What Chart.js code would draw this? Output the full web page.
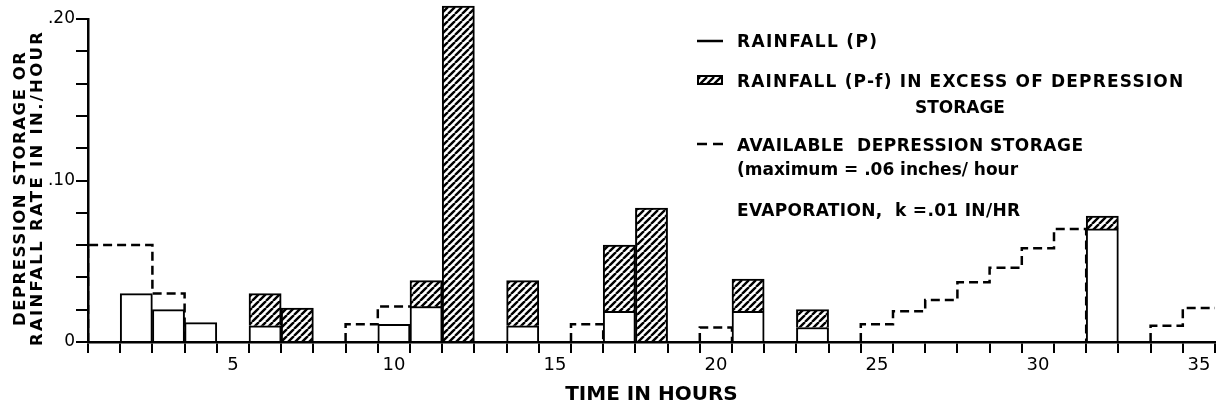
<!DOCTYPE html>
<html>
<head>
<meta charset="utf-8">
<title>Depression storage and rainfall excess</title>
<script src="https://cdn.jsdelivr.net/npm/chart.js@4/dist/chart.umd.min.js"></script>
<style>
  html, body { margin: 0; padding: 0; background: #fff; }
  #c { display: block; width: 1221px; height: 410px; }
</style>
</head>
<body>
<canvas id="c" width="1221" height="410"></canvas>
<script>
// Hours of the storm, one bar slot per hour (hour h spans h-1 .. h)
const hours = ['1','2','3','4','5','6','7','8','9','10',
               '11','12','13','14','15','16','17','18','19','20',
               '21','22','23','24','25','26','27','28','29','30',
               '31','32','33','34','35'];

// Rainfall rate P, in./hour
const rainfall = [
  null, 0.030, 0.020, 0.012, null, 0.030, 0.021, null, null, 0.011,
  0.038, 0.208, null, 0.038, null, null, 0.060, 0.083, null, null,
  0.039, null, 0.020, null, null, null, null, null, null, null,
  null, 0.078, null, null, null
];

// Rainfall (P-f) in excess of depression storage, in./hour
const excess = [
  null, null, null, null, null, 0.020, 0.021, null, null, null,
  0.016, 0.208, null, 0.028, null, null, 0.041, 0.083, null, null,
  0.020, null, 0.011, null, null, null, null, null, null, null,
  null, 0.008, null, null, null
];

// Available depression storage at each hour, in. (max .06)
const storage = [
  0.060, 0.060, 0.030, null, null, null, null, null, 0.011, 0.022,
  0.022, null, null, null, null, 0.011, null, null, null, 0.009,
  null, null, null, null, 0.011, 0.019, 0.026, 0.037, 0.046, 0.058,
  0.070, null, null, 0.010, 0.021
];

// Axis labels
const xTickLabels = ['5', '10', '15', '20', '25', '30', '35'];
const yTickValues = [0, 0.10, 0.20];
const yTickLabels = ['0', '.10', '.20'];

// Part of each hour's rainfall that goes into storage (P minus excess)
const stored = rainfall.map((p, i) => {
  if (p == null) return null;
  const s = +(p - (excess[i] || 0)).toFixed(3);
  return s > 0 ? s : null;
});

// Step outline of the available storage, rising from and dropping back to zero
function storageOutline(vals) {
  const pts = [];
  vals.forEach((v, i) => {
    if (v == null) return;
    if (i === 0 || vals[i - 1] == null) pts.push({ x: i, y: 0 });
    pts.push({ x: i, y: v });
    pts.push({ x: i + 1, y: v });
    const last = i + 1 >= vals.length;
    if (!last && vals[i + 1] == null) {
      pts.push({ x: i + 1, y: 0 });
      pts.push({ x: i + 1, y: null });
    }
  });
  return pts;
}

const FAMILY = "'DejaVu Sans', sans-serif";
const canvas = document.getElementById('c');
const mainCtx = canvas.getContext('2d');

// Diagonal line shading for the excess rainfall
function makeHatch() {
  const s = 7;
  const tile = document.createElement('canvas');
  tile.width = s; tile.height = s;
  const g = tile.getContext('2d');
  g.fillStyle = '#fff';
  g.fillRect(0, 0, s, s);
  g.strokeStyle = '#000';
  g.lineWidth = 2.4;
  g.beginPath();
  for (const k of [-s, 0, s]) { g.moveTo(k, s); g.lineTo(k + s, 0); }
  g.stroke();
  return mainCtx.createPattern(tile, 'repeat');
}
const hatch = makeHatch();

// Draw text left-aligned, spread to a given width
function fitText(ctx, text, x, y, width, font) {
  ctx.save();
  ctx.font = font;
  ctx.textAlign = 'left';
  ctx.textBaseline = 'alphabetic';
  ctx.fillStyle = '#000';
  const natural = ctx.measureText(text).width;
  if (width && 'letterSpacing' in ctx) {
    const gap = (width - natural) / Math.max(1, text.length - 1);
    ctx.letterSpacing = gap.toFixed(2) + 'px';
    ctx.fillText(text, x, y);
  } else if (width && natural > width) {
    ctx.fillText(text, x, y, width);
  } else {
    ctx.fillText(text, x, y);
  }
  ctx.restore();
}

// Vertical axis caption and the key in the upper right
const notes = {
  id: 'notes',
  afterDraw(chart) {
    const ctx = chart.ctx;
    const bold = (px) => `bold ${px}px ${FAMILY}`;

    // two-line rotated caption left of the value axis
    ctx.save();
    ctx.translate(25, 189);
    ctx.rotate(-Math.PI / 2);
    fitText(ctx, 'DEPRESSION STORAGE OR', -137, 0, 274, bold(16.5));
    ctx.restore();
    ctx.save();
    ctx.translate(42, 189);
    ctx.rotate(-Math.PI / 2);
    fitText(ctx, 'RAINFALL RATE IN IN./HOUR', -157, 0, 314, bold(16.5));
    ctx.restore();

    // key symbols
    ctx.save();
    ctx.strokeStyle = '#000';
    ctx.lineWidth = 2.5;
    ctx.beginPath();
    ctx.moveTo(697, 41); ctx.lineTo(723, 41);
    ctx.stroke();

    ctx.fillStyle = hatch;
    ctx.fillRect(697, 75, 26, 10);
    ctx.lineWidth = 2;
    ctx.strokeRect(698, 76, 24, 8);

    ctx.lineWidth = 2.5;
    ctx.setLineDash([10, 6]);
    ctx.beginPath();
    ctx.moveTo(697, 144); ctx.lineTo(723, 144);
    ctx.stroke();
    ctx.restore();

    // key text
    fitText(ctx, 'RAINFALL (P)', 737, 47, 140, bold(17));
    fitText(ctx, 'RAINFALL (P-f) IN EXCESS OF DEPRESSION', 737, 87, 446, bold(17));
    fitText(ctx, 'STORAGE', 915, 113, 90, bold(17));
    fitText(ctx, 'AVAILABLE  DEPRESSION STORAGE', 737, 151, 346, bold(17));
    fitText(ctx, '(maximum = .06 inches/ hour', 737, 175, 281, bold(17));
    fitText(ctx, 'EVAPORATION,  k =.01 IN/HR', 737, 216, 283, bold(17));
  }
};

const barStyle = {
  type: 'bar',
  xAxisID: 'x',
  yAxisID: 'y',
  stack: 'rain',
  grouped: false,
  borderColor: '#000',
  borderWidth: 2,
  borderSkipped: 'start',
  barPercentage: 1,
  categoryPercentage: 1,
  clip: false
};

new Chart(mainCtx, {
  type: 'bar',
  data: {
    labels: hours,
    datasets: [
      {
        ...barStyle,
        label: 'RAINFALL (P)',
        data: stored,
        backgroundColor: '#fff',
        order: 1
      },
      {
        ...barStyle,
        label: 'RAINFALL (P-f)',
        data: excess,
        backgroundColor: hatch,
        order: 2
      },
      {
        type: 'line',
        label: 'AVAILABLE DEPRESSION STORAGE',
        data: storageOutline(storage),
        xAxisID: 'xt',
        yAxisID: 'y',
        borderColor: '#000',
        borderWidth: 2.5,
        borderDash: [9, 5],
        pointRadius: 0,
        fill: false,
        tension: 0,
        spanGaps: false,
        order: 3
      }
    ]
  },
  options: {
    responsive: false,
    devicePixelRatio: 1,
    animation: false,
    events: [],
    layout: { padding: { left: 0, right: 6, top: 19, bottom: 0 } },
    plugins: {
      legend: { display: false },
      tooltip: { enabled: false }
    },
    scales: {
      x: {
        type: 'category',
        position: 'bottom',
        offset: true,
        stacked: true,
        grid: {
          offset: true,
          drawOnChartArea: false,
          drawTicks: true,
          tickLength: 11,
          lineWidth: 2,
          color: '#000'
        },
        border: { display: true, color: '#000', width: 2.5 },
        ticks: {
          autoSkip: false,
          maxRotation: 0,
          minRotation: 0,
          padding: 2,
          color: '#000',
          font: { family: FAMILY, size: 18 },
          callback(value) {
            const label = this.getLabelForValue(value);
            return xTickLabels.includes(label) ? label : '';
          }
        },
        title: {
          display: true,
          text: 'TIME IN HOURS',
          color: '#000',
          font: { family: FAMILY, size: 20, weight: 'bold' },
          padding: { top: 0, bottom: 3 }
        },
        afterFit(scale) { scale.height = 68; }
      },
      // continuous hour scale for the storage outline, same span as the bars
      xt: {
        type: 'linear',
        position: 'bottom',
        display: false,
        offset: false,
        grid: { offset: false },
        min: 0,
        max: hours.length
      },
      y: {
        type: 'linear',
        position: 'left',
        stacked: true,
        min: 0,
        max: 0.2,
        grid: {
          drawOnChartArea: false,
          drawTicks: true,
          tickLength: 12,
          lineWidth: 2,
          color: '#000'
        },
        border: { display: true, color: '#000', width: 2.5 },
        ticks: {
          stepSize: 0.02,
          autoSkip: false,
          padding: 1,
          color: '#000',
          font: { family: FAMILY, size: 17 },
          callback(value) {
            const k = yTickValues.findIndex(t => Math.abs(t - value) < 1e-6);
            return k >= 0 ? yTickLabels[k] : '';
          }
        },
        afterFit(scale) { scale.width = 88; }
      }
    }
  },
  plugins: [notes]
});
</script>
</body>
</html>
